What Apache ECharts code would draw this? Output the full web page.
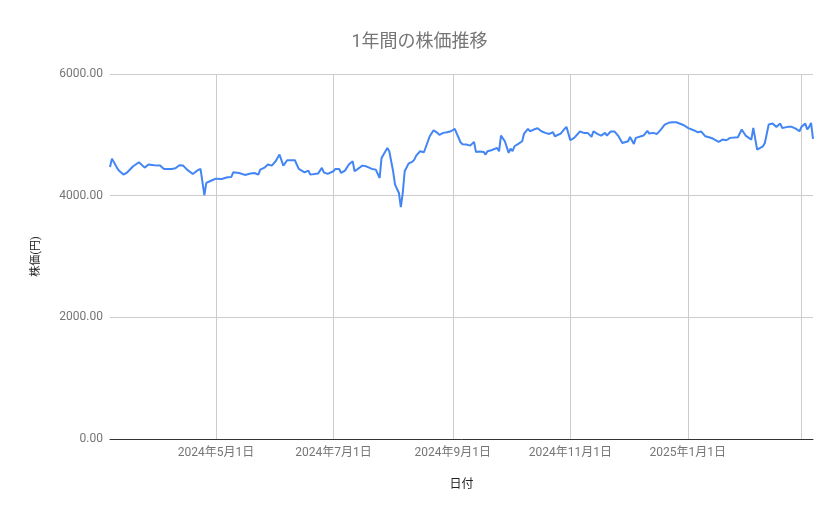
<!DOCTYPE html>
<html>
<head>
<meta charset="utf-8">
<script src="https://cdn.jsdelivr.net/npm/echarts@6/dist/echarts.min.js"></script>
<style>
  html, body { margin: 0; padding: 0; background: #fff; }
  #main { width: 839px; height: 519px; }
</style>
</head>
<body>
<div id="main"></div>
<script>
// 日付
var dates = [
  '2024-03-07','2024-03-08','2024-03-11','2024-03-12','2024-03-14','2024-03-16','2024-03-19','2024-03-22','2024-03-25','2024-03-27',
  '2024-03-30','2024-04-02','2024-04-04','2024-04-05','2024-04-08','2024-04-10','2024-04-11','2024-04-12','2024-04-14','2024-04-16',
  '2024-04-19','2024-04-21','2024-04-23','2024-04-24','2024-04-25','2024-04-26','2024-04-29','2024-05-01','2024-05-04','2024-05-07',
  '2024-05-08','2024-05-09','2024-05-10','2024-05-13','2024-05-14','2024-05-16','2024-05-17','2024-05-19','2024-05-20','2024-05-21',
  '2024-05-23','2024-05-24','2024-05-26','2024-05-28','2024-05-30','2024-06-01','2024-06-03','2024-06-04','2024-06-05','2024-06-07',
  '2024-06-11','2024-06-13','2024-06-14','2024-06-16','2024-06-18','2024-06-19','2024-06-20','2024-06-23','2024-06-25','2024-06-26',
  '2024-06-28','2024-07-01','2024-07-02','2024-07-04','2024-07-05','2024-07-07','2024-07-09','2024-07-11','2024-07-12','2024-07-16',
  '2024-07-18','2024-07-21','2024-07-23','2024-07-25','2024-07-26','2024-07-29','2024-07-30','2024-07-31','2024-08-01','2024-08-02',
  '2024-08-04','2024-08-05','2024-08-06','2024-08-07','2024-08-09','2024-08-11','2024-08-12','2024-08-13','2024-08-14','2024-08-15',
  '2024-08-17','2024-08-18','2024-08-20','2024-08-22','2024-08-24','2024-08-25','2024-08-27','2024-08-28','2024-08-29','2024-08-30',
  '2024-08-31','2024-09-02','2024-09-03','2024-09-05','2024-09-06','2024-09-08','2024-09-10','2024-09-11','2024-09-12','2024-09-13',
  '2024-09-15','2024-09-17','2024-09-18','2024-09-19','2024-09-21','2024-09-24','2024-09-25','2024-09-26','2024-09-28','2024-09-30',
  '2024-10-01','2024-10-02','2024-10-03','2024-10-05','2024-10-07','2024-10-08','2024-10-10','2024-10-11','2024-10-13','2024-10-15',
  '2024-10-17','2024-10-19','2024-10-21','2024-10-23','2024-10-24','2024-10-25','2024-10-27','2024-10-29','2024-10-30','2024-11-01',
  '2024-11-03','2024-11-06','2024-11-08','2024-11-10','2024-11-12','2024-11-13','2024-11-15','2024-11-17','2024-11-19','2024-11-20',
  '2024-11-22','2024-11-24','2024-11-26','2024-11-28','2024-12-01','2024-12-02','2024-12-04','2024-12-05','2024-12-09','2024-12-10',
  '2024-12-11','2024-12-12','2024-12-14','2024-12-16','2024-12-18','2024-12-20','2024-12-22','2024-12-24','2024-12-26','2024-12-27',
  '2024-12-30','2025-01-01','2025-01-04','2025-01-06','2025-01-08','2025-01-10','2025-01-12','2025-01-14','2025-01-17','2025-01-19',
  '2025-01-20','2025-01-21','2025-01-23','2025-01-25','2025-01-27','2025-01-28','2025-01-29','2025-01-31','2025-02-03','2025-02-04',
  '2025-02-06','2025-02-09','2025-02-10','2025-02-12','2025-02-14','2025-02-16','2025-02-18','2025-02-19','2025-02-22','2025-02-24',
  '2025-02-26','2025-02-28','2025-03-01','2025-03-03','2025-03-04','2025-03-05','2025-03-06','2025-03-07'
];

// 株価（円）
var prices = [
  4472, 4609, 4439, 4401, 4346, 4384, 4483, 4549, 4461, 4511,
  4500, 4494, 4439, 4412, 4439, 4450, 4428, 4500, 4494, 4428,
  4357, 4406, 4439, 4445, 4010, 4209, 4253, 4280, 4275, 4302,
  4324, 4308, 4384, 4373, 4395, 4341, 4330, 4363, 4384, 4373,
  4346, 4428, 4456, 4511, 4494, 4566, 4675, 4659, 4494, 4582,
  4582, 4439, 4445, 4384, 4412, 4346, 4341, 4363, 4456, 4384,
  4357, 4401, 4439, 4439, 4373, 4412, 4511, 4566, 4401, 4494,
  4483, 4439, 4428, 4291, 4620, 4785, 4730, 4757, 4401, 4181,
  4044, 3810, 4044, 4401, 4527, 4560, 4593, 4659, 4648, 4730,
  4714, 4703, 4977, 5076, 5032, 4999, 5032, 5021, 5043, 5021,
  5059, 5098, 5087, 4878, 4845, 4840, 4823, 4801, 4884, 4719,
  4725, 4719, 4675, 4730, 4747, 4785, 4730, 4988, 4895, 4703,
  4774, 4730, 4812, 4851, 4895, 5021, 5098, 5059, 5087, 5109,
  5059, 5032, 5015, 5043, 4977, 4988, 5021, 5098, 5131, 4911,
  4950, 5054, 5032, 5032, 4966, 5059, 5015, 4988, 5032, 4988,
  5054, 5054, 4977, 4867, 4895, 4966, 4851, 4950, 4988, 5004,
  5065, 5021, 5032, 5015, 5087, 5169, 5197, 5207, 5207, 5197,
  5158, 5114, 5076, 5043, 5054, 4977, 4961, 4939, 4884, 4922,
  4895, 4911, 4950, 4955, 4961, 4955, 5087, 4988, 4922, 5114,
  4758, 4812, 4867, 5169, 5185, 5131, 5185, 5114, 5131, 5131,
  5103, 5059, 5131, 5185, 5087, 5131, 5197, 4933
];

// 目盛り（グリッド線）と表示するラベル
var gridDates = ['2024-05-01', '2024-07-01', '2024-09-01', '2024-11-01', '2025-01-01', '2025-03-01'];
var labelDates = ['2024-05-01', '2024-07-01', '2024-09-01', '2024-11-01', '2025-01-01'];

function toTime(s) {
  var p = s.split('-');
  return new Date(+p[0], +p[1] - 1, +p[2]).getTime();
}

var seriesData = [];
for (var i = 0; i < dates.length; i++) {
  seriesData.push([toTime(dates[i]), prices[i]]);
}

var myChart = echarts.init(document.getElementById('main'));

var option = {
  backgroundColor: '#ffffff',
  animation: false,
  title: {
    text: '1年間の株価推移',
    left: 'center',
    top: 29,
    textStyle: {
      fontFamily: 'Roboto, "Noto Sans CJK JP", sans-serif',
      fontSize: 18,
      fontWeight: 'normal',
      color: '#757575'
    }
  },
  grid: {
    left: 110,
    right: 26,
    top: 74,
    bottom: 80
  },
  xAxis: {
    type: 'value',
    min: toTime(dates[0]),
    max: toTime(dates[dates.length - 1]),
    name: '日付',
    nameLocation: 'middle',
    nameGap: 40,
    nameTextStyle: {
      fontFamily: 'Roboto, "Noto Sans CJK JP", sans-serif',
      fontSize: 12,
      color: '#222222'
    },
    axisLine: { show: true, onZero: false, lineStyle: { color: '#333333', width: 1 } },
    axisTick: { show: false, customValues: gridDates.map(toTime) },
    splitLine: { show: true, lineStyle: { color: '#cccccc', width: 1 } },
    axisLabel: {
      customValues: labelDates.map(toTime),
      margin: 8,
      fontFamily: 'Roboto, "Noto Sans CJK JP", sans-serif',
      fontSize: 12,
      color: '#757575',
      formatter: function (val) {
        var d = new Date(val);
        return d.getFullYear() + '年' + (d.getMonth() + 1) + '月' + d.getDate() + '日';
      }
    }
  },
  yAxis: {
    type: 'value',
    min: 0,
    max: 6000,
    interval: 2000,
    name: '株価(円)',
    nameLocation: 'middle',
    nameGap: 68,
    nameRotate: 90,
    nameTextStyle: {
      fontFamily: 'Roboto, "Noto Sans CJK JP", sans-serif',
      fontSize: 11,
      color: '#222222'
    },
    axisLine: { show: false },
    axisTick: { show: false },
    splitLine: { show: true, lineStyle: { color: '#cccccc', width: 1 } },
    axisLabel: {
      margin: 7,
      fontFamily: 'Roboto, sans-serif',
      fontSize: 12,
      color: '#757575',
      formatter: function (v) { return v.toFixed(2); }
    }
  },
  series: [{
    name: '株価',
    type: 'line',
    data: seriesData,
    showSymbol: false,
    symbol: 'none',
    lineStyle: { color: '#4285f4', width: 2 },
    itemStyle: { color: '#4285f4' }
  }]
};

myChart.setOption(option);
</script>
</body>
</html>
